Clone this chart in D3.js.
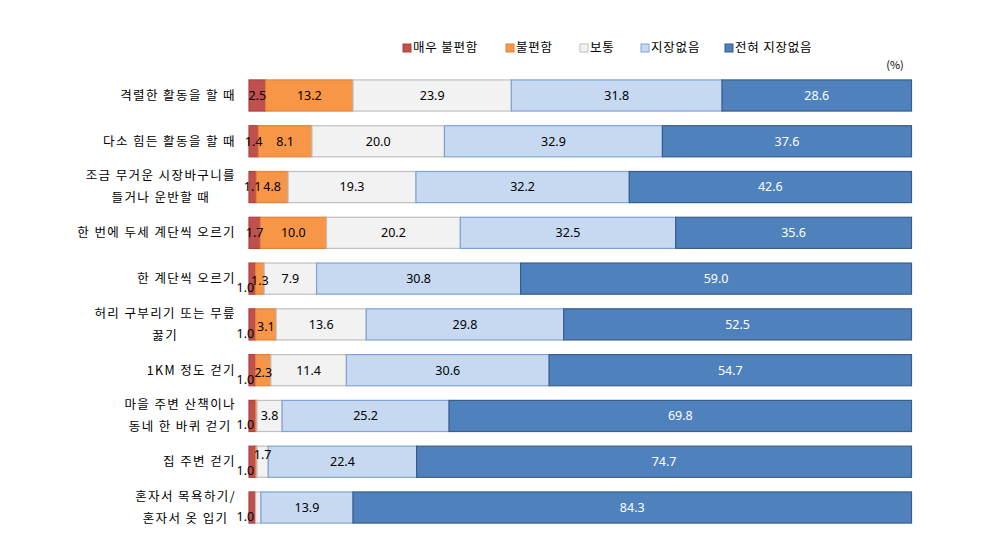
<!DOCTYPE html>
<html><head><meta charset="utf-8">
<script src="https://cdn.jsdelivr.net/npm/d3@7"></script>
<style>body{margin:0;background:#fff}svg{display:block}text{font-family:"Noto Sans CJK KR","Noto Sans",sans-serif}</style>
</head><body><svg id="c" width="992" height="535"></svg>
<script>
const categories = [
  ["격렬한 활동을 할 때"],
  ["다소 힘든 활동을 할 때"],
  ["조금 무거운 시장바구니를", "들거나 운반할 때"],
  ["한 번에 두세 계단씩 오르기"],
  ["한 계단씩 오르기"],
  ["허리 구부리기 또는 무릎", "꿇기"],
  ["1KM 정도 걷기"],
  ["마을 주변 산책이나", "동네 한 바퀴 걷기"],
  ["집 주변 걷기"],
  ["혼자서 목욕하기/", "혼자서 옷 입기"]
];
const seriesNames = ["매우 불편함", "불편함", "보통", "지장없음", "전혀 지장없음"];
const veryUncomfortable = [2.5, 1.4, 1.1, 1.7, 1.0, 1.0, 1.0, 1.0, 1.0, 1.0];
const uncomfortable     = [13.2, 8.1, 4.8, 10.0, 1.3, 3.1, 2.3, 0.2, 0.2, 0.0];
const normal            = [23.9, 20.0, 19.3, 20.2, 7.9, 13.6, 11.4, 3.8, 1.7, 0.8];
const noProblem         = [31.8, 32.9, 32.2, 32.5, 30.8, 29.8, 30.6, 25.2, 22.4, 13.9];
const noProblemAtAll    = [28.6, 37.6, 42.6, 35.6, 59.0, 52.5, 54.7, 69.8, 74.7, 84.3];
const unitLabel = "(%)";

const series = [veryUncomfortable, uncomfortable, normal, noProblem, noProblemAtAll];
const fills   = ["#c0504d", "#f79646", "#f2f2f2", "#c6d9f1", "#4f81bd"];
const strokes = ["#b0403d", "#e5813a", "#bfbfbf", "#7fa3d6", "#385d8a"];
const textCol = ["#000", "#000", "#000", "#000", "#fff"];

const svg = d3.select("#c");
const x = d3.scaleLinear().domain([0, 100]).range([249, 911.5]);
const y = d3.scaleBand().domain(d3.range(categories.length)).range([72.6, 530.4]).paddingInner(0.32).paddingOuter(0.16);

const rows = categories.map((c, i) => {
  let acc = 0;
  return series.map((s, k) => { const d = {row: i, k, v: s[i], x0: acc, x1: acc + s[i]}; acc += s[i]; return d; });
});

const g = svg.append("g");
rows.forEach(r => {
  r.forEach(d => {
    if (d.v <= 0) return;
    g.append("rect")
      .attr("x", x(d.x0)).attr("y", y(d.row))
      .attr("width", Math.max(0, x(d.x1) - x(d.x0))).attr("height", y.bandwidth())
      .attr("fill", fills[d.k]).attr("stroke", strokes[d.k]).attr("stroke-width", 1.2);
  });
});
// value labels
rows.forEach(r => {
  const small = r[0].v <= 1.0;
  r.forEach(d => {
    if (d.v < 1) return;
    let cx = (x(d.x0) + x(d.x1)) / 2;
    let cy = y(d.row) + y.bandwidth() / 2;
    if (small && d.k === 0) { cx -= 7; cy += 9; }
    else if (small && d.k === 1) { cy += 2; }
    else if (small && d.k === 2 && d.v < 2) { cy -= 7; }
    g.append("text").attr("x", cx).attr("y", cy).attr("dy", "0.35em")
      .attr("text-anchor", "middle").attr("font-size", 12.5).attr("fill", textCol[d.k])
      .style("font-family", "'Noto Sans','DejaVu Sans',sans-serif")
      .text(d.v.toFixed(1));
  });
});

// category labels
categories.forEach((lines, i) => {
  const cy = y(i) + y.bandwidth() / 2;
  const t = svg.append("g");
  const texts = lines.map((ln, j) => t.append("text")
    .attr("y", cy + (j - (lines.length - 1) / 2) * 22).attr("dy", "0.35em")
    .attr("font-size", 12.5).attr("fill", "#000").style("letter-spacing", "1.4px").text(ln));
  const widths = texts.map(tx => tx.node().getComputedTextLength());
  const W = d3.max(widths);
  const right = 236;
  texts.forEach((tx, j) => tx.attr("text-anchor", "middle").attr("x", right - W / 2));
});

// legend
const legX = [403, 506, 580, 641, 725];
seriesNames.forEach((n, k) => {
  svg.append("rect").attr("x", legX[k]).attr("y", 44).attr("width", 8).attr("height", 8)
    .attr("fill", fills[k]).attr("stroke", strokes[k]);
  svg.append("text").attr("x", legX[k] + 10).attr("y", 48).attr("dy", "0.35em")
    .attr("font-size", 12.5).style("letter-spacing", "0.8px").attr("fill", "#000").text(n);
});
svg.append("text").attr("x", 895).attr("y", 65).attr("dy", "0.35em").attr("text-anchor", "middle")
  .attr("font-size", 11).attr("fill", "#000").text(unitLabel);
</script></body></html>
